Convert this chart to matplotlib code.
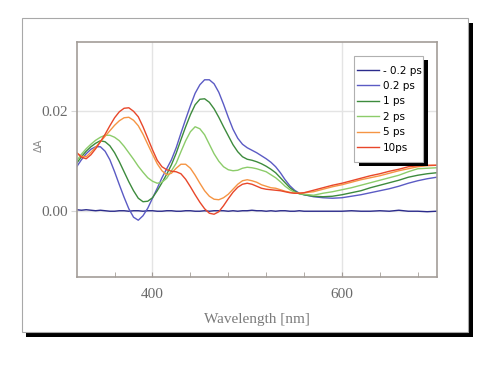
import matplotlib
matplotlib.use("Agg")
import matplotlib.pyplot as plt
from matplotlib.patches import Rectangle
from matplotlib.ticker import FixedLocator

wavelength = [320, 325, 330, 335, 340, 345, 350, 355, 360, 365, 370, 375, 380, 385,
              390, 395, 400, 405, 410, 415, 420, 425, 430, 435, 440, 445, 450, 455,
              460, 465, 470, 475, 480, 485, 490, 495, 500, 505, 510, 515, 520, 525,
              530, 535, 540, 545, 550, 555, 560,
              570, 580, 590, 600, 610, 620, 630, 640, 650, 660, 670, 680, 690, 700]

s_m02 = [0.0002, 0.0001, 0.0002, 0.0001, 0.0000, 0.0001, 0.0000, -0.0001, -0.0001,
         0.0000, 0.0000, -0.0001, 0.0000, 0.0000, -0.0001, 0.0000, 0.0000, -0.0001,
         -0.0001, 0.0000, 0.0000, -0.0001, -0.0001, 0.0000, 0.0000, -0.0001, -0.0001,
         0.0000, -0.0001, 0.0000, 0.0000, 0.0000, -0.0001, 0.0000, -0.0001, 0.0000,
         0.0000, 0.0001, 0.0000, 0.0000, -0.0001, 0.0000, -0.0001, 0.0000, 0.0000,
         -0.0001, -0.0001, 0.0000, -0.0001,
         -0.0001, -0.0001, -0.0001, -0.0001, 0.0000, -0.0001, -0.0001, 0.0000, -0.0001,
         0.0001, -0.0001, -0.0001, -0.0002, -0.0001]

s_02 = [0.0088, 0.0102, 0.0114, 0.0123, 0.0128, 0.0128, 0.0119, 0.0102, 0.0078,
        0.0052, 0.0027, 0.0004, -0.0013, -0.0019, -0.0010, 0.0005, 0.0025, 0.0045,
        0.0066, 0.0084, 0.0102, 0.0126, 0.0155, 0.0183, 0.0210, 0.0235, 0.0252,
        0.0262, 0.0262, 0.0254, 0.0237, 0.0213, 0.0187, 0.0163, 0.0145, 0.0133,
        0.0126, 0.0121, 0.0116, 0.0110, 0.0104, 0.0097, 0.0088, 0.0076, 0.0062,
        0.0050, 0.0041, 0.0035, 0.0032,
        0.0028, 0.0026, 0.0025, 0.0026, 0.0029, 0.0032, 0.0036, 0.0040, 0.0044,
        0.0049, 0.0055, 0.0060, 0.0064, 0.0067]

s_1 = [0.0095, 0.0108, 0.0119, 0.0128, 0.0135, 0.0140, 0.0138, 0.0130, 0.0116,
       0.0098, 0.0078, 0.0058, 0.0040, 0.0025, 0.0018, 0.0019, 0.0026, 0.0040,
       0.0056, 0.0073, 0.0092, 0.0115, 0.0142, 0.0168, 0.0192, 0.0212, 0.0223,
       0.0224, 0.0217, 0.0204, 0.0187, 0.0168, 0.0150, 0.0132, 0.0118, 0.0108,
       0.0103, 0.0101, 0.0098, 0.0094, 0.0089, 0.0083, 0.0076, 0.0066, 0.0056,
       0.0046, 0.0039, 0.0034, 0.0032,
       0.0029, 0.0028, 0.0029, 0.0032, 0.0036, 0.0040, 0.0046, 0.0051, 0.0056,
       0.0061, 0.0067, 0.0071, 0.0074, 0.0076]

s_2 = [0.0100, 0.0113, 0.0124, 0.0133, 0.0141, 0.0147, 0.0151, 0.0151, 0.0147,
       0.0140, 0.0129, 0.0116, 0.0103, 0.0089, 0.0077, 0.0066, 0.0059, 0.0055,
       0.0057, 0.0065, 0.0080, 0.0095, 0.0118, 0.0140, 0.0158, 0.0168, 0.0164,
       0.0152, 0.0133, 0.0114, 0.0099, 0.0088, 0.0082, 0.0080, 0.0081, 0.0085,
       0.0087, 0.0086, 0.0084, 0.0081, 0.0078, 0.0072, 0.0066, 0.0058, 0.0049,
       0.0042, 0.0037, 0.0034, 0.0033,
       0.0031, 0.0035, 0.0038, 0.0042, 0.0046, 0.0051, 0.0056, 0.0061, 0.0066,
       0.0071, 0.0078, 0.0084, 0.0085, 0.0086]

s_5 = [0.0116, 0.0109, 0.0108, 0.0117, 0.0127, 0.0138, 0.0149, 0.0160, 0.0171,
       0.0180, 0.0186, 0.0187, 0.0181, 0.0170, 0.0153, 0.0133, 0.0113, 0.0094,
       0.0080, 0.0072, 0.0075, 0.0085, 0.0093, 0.0093, 0.0085, 0.0071, 0.0055,
       0.0040, 0.0029, 0.0023, 0.0022, 0.0026, 0.0033, 0.0043, 0.0053, 0.0060,
       0.0062, 0.0060, 0.0057, 0.0052, 0.0049, 0.0046, 0.0045, 0.0042, 0.0039,
       0.0037, 0.0035, 0.0035, 0.0036,
       0.0038, 0.0043, 0.0048, 0.0052, 0.0057, 0.0062, 0.0066, 0.0070, 0.0075,
       0.0080, 0.0084, 0.0088, 0.0090, 0.0091]

s_10 = [0.0116, 0.0107, 0.0104, 0.0112, 0.0124, 0.0138, 0.0153, 0.0170, 0.0186,
        0.0198, 0.0205, 0.0206, 0.0199, 0.0188, 0.0168, 0.0145, 0.0122, 0.0101,
        0.0088, 0.0082, 0.0079, 0.0078, 0.0074, 0.0063, 0.0048, 0.0032, 0.0017,
        0.0004, -0.0005, -0.0007, -0.0002, 0.0010, 0.0024, 0.0037, 0.0047, 0.0053,
        0.0055, 0.0053, 0.0049, 0.0045, 0.0043, 0.0042, 0.0041, 0.0040, 0.0038,
        0.0036, 0.0035, 0.0035, 0.0036,
        0.0041, 0.0046, 0.0051, 0.0055, 0.0060, 0.0065, 0.0070, 0.0074, 0.0079,
        0.0083, 0.0088, 0.0090, 0.0091, 0.0091]

labels = ["- 0.2 ps", "0.2 ps", "1 ps", "2 ps", "5 ps", "10ps"]
colors = ["#2b2b8c", "#5b5bc4", "#3d8b3d", "#8ccc6a", "#f59544", "#e8472a"]
series = [s_m02, s_02, s_1, s_2, s_5, s_10]

W, H = 495.0, 368.0
fig = plt.figure(figsize=(W / 100, H / 100), dpi=100)
fig.patch.set_facecolor("white")

# outer frame with black drop shadow
fx0, fx1, fy0, fy1 = 21.5, 468.0, 36.0, 349.7
sh = 4.5
fig.patches.append(Rectangle(((fx0 + sh) / W, (fy0 - sh) / H), (fx1 - fx0) / W, (fy1 - fy0) / H,
                             transform=fig.transFigure, facecolor="black", edgecolor="none", zorder=-3))
fig.patches.append(Rectangle((fx0 / W, fy0 / H), (fx1 - fx0) / W, (fy1 - fy0) / H,
                             transform=fig.transFigure, facecolor="white", edgecolor="#a8a8a8",
                             linewidth=0.8, zorder=-2))

AX_L, AX_T, AX_W, AX_H = 76.7, 42.3, 360.0, 234.4
ax = fig.add_axes([AX_L / W, (H - AX_T - AX_H) / H, AX_W / W, AX_H / H])
ax.set_facecolor("white")

for s, c, l in zip(series, colors, labels):
    ax.plot(wavelength, s, color=c, lw=1.0, label=l, zorder=2)

ax.set_xlim(320, 700)
ax.set_ylim(-0.0132, 0.0337)

ax.xaxis.set_major_locator(FixedLocator([400, 600]))
ax.xaxis.set_minor_locator(FixedLocator([360, 440, 480, 520, 560, 640, 680]))
ax.yaxis.set_major_locator(FixedLocator([0.0, 0.02]))
ax.set_xticklabels(["400", "600"])
ax.set_yticklabels(["0.00", "0.02"])

ax.grid(True, which="major", color="#e4e4e4", lw=1.0, zorder=0)
ax.set_axisbelow(True)

spine_c = "#a39d98"
for sp in ax.spines.values():
    sp.set_color(spine_c)
    sp.set_linewidth(1.2)

ax.tick_params(axis="x", which="both", direction="in", length=3.5, color=spine_c,
               labelsize=11, labelcolor="#6a6a6a", pad=8)
ax.tick_params(axis="y", which="both", direction="out", length=4, color="#d8d8d8",
               labelsize=11, labelcolor="#6a6a6a", pad=2)
for t in ax.get_xticklabels() + ax.get_yticklabels():
    t.set_fontfamily("Liberation Serif")

ax.set_xlabel("Wavelength [nm]", fontfamily="Liberation Serif",
              fontsize=11, color="#7a7a7a", labelpad=9)
ax.set_ylabel("ΔA", fontsize=7, color="#8a8a8a", fontfamily="DejaVu Sans")
ax.yaxis.set_label_coords(-0.09, 0.56)


def px_to_ax(x, y):
    return (x - AX_L) / AX_W, (AX_T + AX_H - y) / AX_H


# legend box (px coordinates in the figure image) with black shadow
lx0, ly0, lx1, ly1 = 354.0, 56.0, 423.0, 162.0
bx, by = px_to_ax(lx0, ly1)
bw, bh = (lx1 - lx0) / AX_W, (ly1 - ly0) / AX_H
ax.add_patch(Rectangle((bx + 4.5 / AX_W, by - 4 / AX_H), bw, bh, transform=ax.transAxes,
                       facecolor="black", edgecolor="none", zorder=6, clip_on=False))
ax.add_patch(Rectangle((bx, by), bw, bh, transform=ax.transAxes,
                       facecolor="white", edgecolor="#b0b0b0", lw=0.8, zorder=7, clip_on=False))

ax_x, ax_y = px_to_ax(356.5, 65.5)
leg = ax.legend(loc="upper left", bbox_to_anchor=(ax_x, ax_y), frameon=False,
                prop={"family": "DejaVu Sans", "size": 7.5},
                handlelength=2.2, handletextpad=0.3, labelspacing=0.52,
                borderpad=0, borderaxespad=0)
leg.set_zorder(8)

fig.savefig("out.png", dpi=100, facecolor="white")
